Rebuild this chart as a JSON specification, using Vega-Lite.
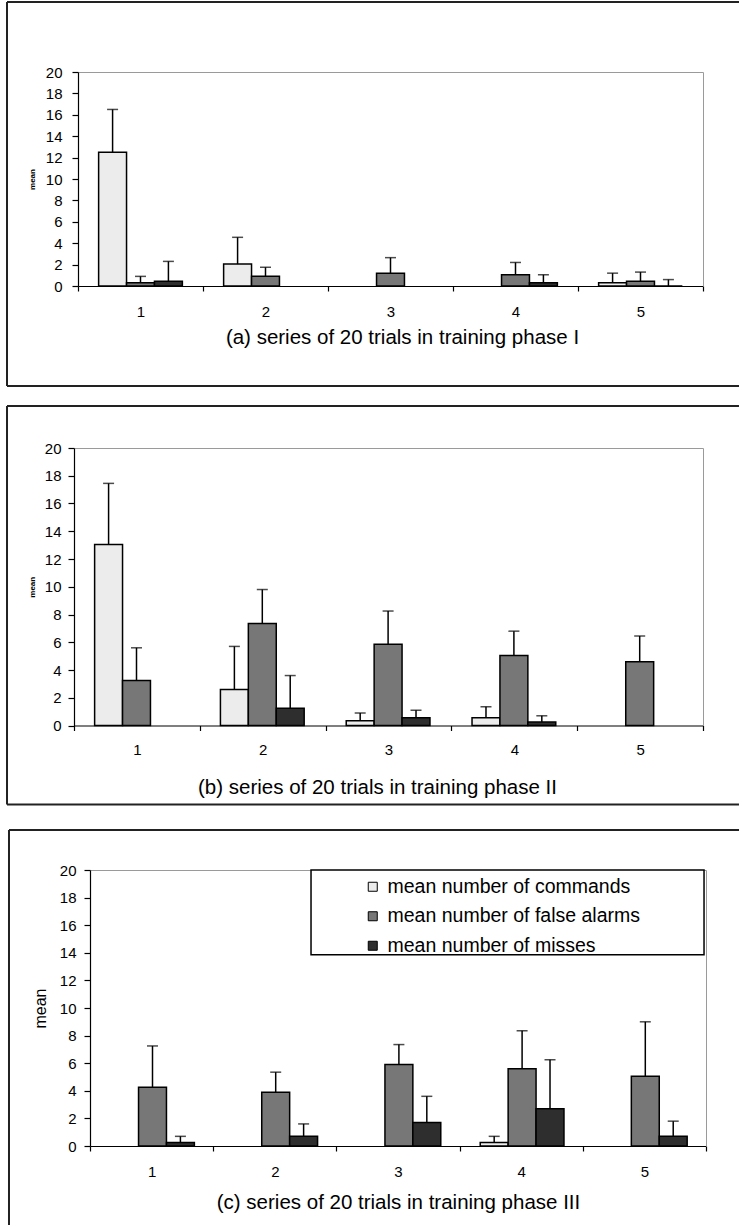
{
  "$schema": "https://vega.github.io/schema/vega-lite/v6.json",
  "padding": {"left": 6, "top": 1, "right": 0, "bottom": 0},
  "autosize": {"type": "pad"},
  "background": "white",
  "config": {
    "font": "Liberation Sans",
    "view": {"stroke": null},
    "axis": {"domainColor": "black", "tickColor": "black", "labelColor": "black", "titleColor": "black", "labelFont": "Liberation Sans", "titleFont": "Liberation Sans", "grid": false, "domainWidth": 1.2, "tickWidth": 1.2, "labelOverlap": false},
    "axisY": {"labelOverlap": false, "labelBound": false, "labelFlush": false}
  },
  "datasets": {
    "bars": [
      {"panel": "a", "trial": 1, "series": "mean number of commands", "mean": 12.5, "upper": 16.5},
      {"panel": "a", "trial": 1, "series": "mean number of false alarms", "mean": 0.3, "upper": 0.9},
      {"panel": "a", "trial": 1, "series": "mean number of misses", "mean": 0.45, "upper": 2.3},
      {"panel": "a", "trial": 2, "series": "mean number of commands", "mean": 2.05, "upper": 4.55},
      {"panel": "a", "trial": 2, "series": "mean number of false alarms", "mean": 0.9, "upper": 1.75},
      {"panel": "a", "trial": 3, "series": "mean number of false alarms", "mean": 1.2, "upper": 2.65},
      {"panel": "a", "trial": 4, "series": "mean number of false alarms", "mean": 1.05, "upper": 2.2},
      {"panel": "a", "trial": 4, "series": "mean number of misses", "mean": 0.3, "upper": 1.05},
      {"panel": "a", "trial": 5, "series": "mean number of commands", "mean": 0.3, "upper": 1.2},
      {"panel": "a", "trial": 5, "series": "mean number of false alarms", "mean": 0.45, "upper": 1.3},
      {"panel": "a", "trial": 5, "series": "mean number of misses", "mean": 0, "upper": 0.6},
      {"panel": "b", "trial": 1, "series": "mean number of commands", "mean": 13.05, "upper": 17.45},
      {"panel": "b", "trial": 1, "series": "mean number of false alarms", "mean": 3.25, "upper": 5.6},
      {"panel": "b", "trial": 2, "series": "mean number of commands", "mean": 2.6, "upper": 5.7},
      {"panel": "b", "trial": 2, "series": "mean number of false alarms", "mean": 7.35, "upper": 9.8},
      {"panel": "b", "trial": 2, "series": "mean number of misses", "mean": 1.25, "upper": 3.6},
      {"panel": "b", "trial": 3, "series": "mean number of commands", "mean": 0.35, "upper": 0.9},
      {"panel": "b", "trial": 3, "series": "mean number of false alarms", "mean": 5.85, "upper": 8.25},
      {"panel": "b", "trial": 3, "series": "mean number of misses", "mean": 0.55, "upper": 1.1},
      {"panel": "b", "trial": 4, "series": "mean number of commands", "mean": 0.55, "upper": 1.35},
      {"panel": "b", "trial": 4, "series": "mean number of false alarms", "mean": 5.05, "upper": 6.8},
      {"panel": "b", "trial": 4, "series": "mean number of misses", "mean": 0.25, "upper": 0.7},
      {"panel": "b", "trial": 5, "series": "mean number of false alarms", "mean": 4.6, "upper": 6.45},
      {"panel": "c", "trial": 1, "series": "mean number of false alarms", "mean": 4.25, "upper": 7.25},
      {"panel": "c", "trial": 1, "series": "mean number of misses", "mean": 0.25, "upper": 0.7},
      {"panel": "c", "trial": 2, "series": "mean number of false alarms", "mean": 3.9, "upper": 5.35},
      {"panel": "c", "trial": 2, "series": "mean number of misses", "mean": 0.7, "upper": 1.6},
      {"panel": "c", "trial": 3, "series": "mean number of false alarms", "mean": 5.9, "upper": 7.35},
      {"panel": "c", "trial": 3, "series": "mean number of misses", "mean": 1.7, "upper": 3.6},
      {"panel": "c", "trial": 4, "series": "mean number of commands", "mean": 0.25, "upper": 0.7},
      {"panel": "c", "trial": 4, "series": "mean number of false alarms", "mean": 5.6, "upper": 8.35},
      {"panel": "c", "trial": 4, "series": "mean number of misses", "mean": 2.7, "upper": 6.25},
      {"panel": "c", "trial": 5, "series": "mean number of false alarms", "mean": 5.05, "upper": 9.0},
      {"panel": "c", "trial": 5, "series": "mean number of misses", "mean": 0.7, "upper": 1.8}
    ]
  },
  "columns": 1,
  "bounds": "full",
  "spacing": 16,
  "resolve": {"legend": {"fill": "independent"}},
  "concat": [
    {
      "width": 625, "height": 214,
      "resolve": {"scale": {"x": "independent", "y": "independent"}},
      "layer": [
        {
          "data": {"values": [{}]},
          "layer": [
            {"mark": {"type": "rule", "color": "#222", "strokeWidth": 2},
             "encoding": {"x": {"datum": -0.1136, "type": "quantitative", "scale": {"domain": [0, 1], "range": [0, 625], "nice": false, "zero": false}, "axis": {"orient": "top", "domainColor": "#9a9a9a", "domainWidth": 1, "ticks": false, "labels": false, "title": null}}, "x2": {"datum": 1.0576}, "y": {"datum": 1.3271, "type": "quantitative", "scale": {"domain": [0, 1], "nice": false, "zero": false}, "axis": {"orient": "right", "domainColor": "#9a9a9a", "domainWidth": 1, "ticks": false, "labels": false, "title": null}}}},
            {"mark": {"type": "rule", "color": "#222", "strokeWidth": 2},
             "encoding": {"x": {"datum": -0.1136, "type": "quantitative"}, "y": {"datum": -0.4673, "type": "quantitative"}, "y2": {"datum": 1.3271}}},
            {"mark": {"type": "rule", "color": "#222", "strokeWidth": 2},
             "encoding": {"x": {"datum": -0.1136, "type": "quantitative"}, "x2": {"datum": 1.0576}, "y": {"datum": -0.4673, "type": "quantitative"}}}
          ]
        },
        {
          "data": {"name": "bars"},
          "transform": [{"filter": "datum.panel == 'a'"}],
          "encoding": {
            "x": {"field": "trial", "type": "ordinal", "scale": {"domain": [1, 2, 3, 4, 5], "range": [0, 625], "paddingInner": 0, "paddingOuter": 0},
                  "axis": {"orient": "bottom", "title": "(a) series of 20 trials in training phase I", "labelAngle": 0, "tickBand": "extent", "tickSize": 5, "labelPadding": 13.6, "labelFontSize": 15, "titleFontSize": 20.5, "titleFontWeight": "normal", "titlePadding": 7.4, "titleX": 324}},
            "xOffset": {"field": "series", "type": "nominal", "scale": {"domain": ["mean number of commands", "mean number of false alarms", "mean number of misses"], "paddingInner": 0, "paddingOuter": 0.739}}
          },
          "layer": [
            {"mark": {"type": "bar", "stroke": "black", "strokeWidth": 1.5},
             "encoding": {
               "y": {"field": "mean", "type": "quantitative", "title": "mean", "scale": {"domain": [0, 20], "nice": false},
                     "axis": {"orient": "left", "values": [0, 2, 4, 6, 8, 10, 12, 14, 16, 18, 20], "labelOverlap": false, "tickSize": 6, "labelPadding": 10, "labelFontSize": 15, "titleFontSize": 8, "titleFontWeight": "bold", "titlePadding": 9}},
               "fill": {"field": "series", "type": "nominal", "scale": {"domain": ["mean number of commands", "mean number of false alarms", "mean number of misses"], "range": ["#ececec", "#777777", "#2e2e2e"]}, "legend": null}
             }},
            {"mark": {"type": "rule", "color": "black", "strokeWidth": 1.5},
             "encoding": {"y": {"field": "mean", "type": "quantitative", "title": "mean", "axis": {"orient": "left", "values": [0, 2, 4, 6, 8, 10, 12, 14, 16, 18, 20], "labelOverlap": false, "tickSize": 6, "labelPadding": 10, "labelFontSize": 15, "titleFontSize": 8, "titleFontWeight": "bold", "titlePadding": 9}}, "y2": {"field": "upper"}}},
            {"mark": {"type": "tick", "color": "black", "size": 11, "thickness": 1.5},
             "encoding": {"y": {"field": "upper", "type": "quantitative", "title": "mean", "axis": {"orient": "left", "values": [0, 2, 4, 6, 8, 10, 12, 14, 16, 18, 20], "labelOverlap": false, "tickSize": 6, "labelPadding": 10, "labelFontSize": 15, "titleFontSize": 8, "titleFontWeight": "bold", "titlePadding": 9}}}}
          ]
        }
      ]
    },
    {
      "width": 625, "height": 277.5,
      "resolve": {"scale": {"x": "independent", "y": "independent"}},
      "layer": [
        {
          "data": {"values": [{}]},
          "layer": [
            {"mark": {"type": "rule", "color": "#222", "strokeWidth": 2},
             "encoding": {"x": {"datum": -0.1065, "type": "quantitative", "scale": {"domain": [0, 1], "range": [-4, 625], "nice": false, "zero": false}, "axis": {"orient": "top", "domainColor": "#9a9a9a", "domainWidth": 1, "ticks": false, "labels": false, "title": null}}, "x2": {"datum": 1.0572}, "y": {"datum": 1.1514, "type": "quantitative", "scale": {"domain": [0, 1], "nice": false, "zero": false}, "axis": {"orient": "right", "domainColor": "#9a9a9a", "domainWidth": 1, "ticks": false, "labels": false, "title": null}}}},
            {"mark": {"type": "rule", "color": "#222", "strokeWidth": 2},
             "encoding": {"x": {"datum": -0.1065, "type": "quantitative"}, "y": {"datum": -0.2847, "type": "quantitative"}, "y2": {"datum": 1.1514}}},
            {"mark": {"type": "rule", "color": "#222", "strokeWidth": 2},
             "encoding": {"x": {"datum": -0.1065, "type": "quantitative"}, "x2": {"datum": 1.0572}, "y": {"datum": -0.2847, "type": "quantitative"}}},
            {"mark": {"type": "rule", "color": "white", "strokeWidth": 1, "strokeOpacity": 0},
             "encoding": {"x": {"datum": 0.5, "type": "quantitative"}, "y": {"datum": -0.2847, "type": "quantitative"}, "y2": {"datum": -0.3135}}}
          ]
        },
        {
          "data": {"name": "bars"},
          "transform": [{"filter": "datum.panel == 'b'"}],
          "encoding": {
            "x": {"field": "trial", "type": "ordinal", "scale": {"domain": [1, 2, 3, 4, 5], "range": [-4, 625], "paddingInner": 0, "paddingOuter": 0},
                  "axis": {"orient": "bottom", "title": "(b) series of 20 trials in training phase II", "labelAngle": 0, "tickBand": "extent", "tickSize": 5, "labelPadding": 11.6, "labelFontSize": 15, "titleFontSize": 20.5, "titleFontWeight": "normal", "titlePadding": 20.4, "titleX": 299}},
            "xOffset": {"field": "series", "type": "nominal", "scale": {"domain": ["mean number of commands", "mean number of false alarms", "mean number of misses"], "paddingInner": 0, "paddingOuter": 0.739}}
          },
          "layer": [
            {"mark": {"type": "bar", "stroke": "black", "strokeWidth": 1.5},
             "encoding": {
               "y": {"field": "mean", "type": "quantitative", "title": "mean", "scale": {"domain": [0, 20], "nice": false},
                     "axis": {"orient": "left", "offset": 4, "values": [0, 2, 4, 6, 8, 10, 12, 14, 16, 18, 20], "labelOverlap": false, "tickSize": 6, "labelPadding": 7, "labelFontSize": 15, "titleFontSize": 8, "titleFontWeight": "bold", "titlePadding": 8}},
               "fill": {"field": "series", "type": "nominal", "scale": {"domain": ["mean number of commands", "mean number of false alarms", "mean number of misses"], "range": ["#ececec", "#777777", "#2e2e2e"]}, "legend": null}
             }},
            {"mark": {"type": "rule", "color": "black", "strokeWidth": 1.5},
             "encoding": {"y": {"field": "mean", "type": "quantitative", "title": "mean", "axis": {"orient": "left", "offset": 4, "values": [0, 2, 4, 6, 8, 10, 12, 14, 16, 18, 20], "labelOverlap": false, "tickSize": 6, "labelPadding": 7, "labelFontSize": 15, "titleFontSize": 8, "titleFontWeight": "bold", "titlePadding": 8}}, "y2": {"field": "upper"}}},
            {"mark": {"type": "tick", "color": "black", "size": 11, "thickness": 1.5},
             "encoding": {"y": {"field": "upper", "type": "quantitative", "title": "mean", "axis": {"orient": "left", "offset": 4, "values": [0, 2, 4, 6, 8, 10, 12, 14, 16, 18, 20], "labelOverlap": false, "tickSize": 6, "labelPadding": 7, "labelFontSize": 15, "titleFontSize": 8, "titleFontWeight": "bold", "titlePadding": 8}}}}
          ]
        }
      ]
    },
    {
      "width": 628, "height": 276,
      "resolve": {"scale": {"x": "independent", "y": "independent"}},
      "layer": [
        {
          "data": {"values": [{}]},
          "layer": [
            {"mark": {"type": "rule", "color": "#222", "strokeWidth": 2},
             "encoding": {"x": {"datum": -0.1315, "type": "quantitative", "scale": {"domain": [0, 1], "range": [12, 628], "nice": false, "zero": false}, "axis": {"orient": "top", "domainColor": "#9a9a9a", "domainWidth": 1, "ticks": false, "labels": false, "title": null}}, "x2": {"datum": 1.0536}, "y": {"datum": 1.1449, "type": "quantitative", "scale": {"domain": [0, 1], "nice": false, "zero": false}, "axis": {"orient": "right", "domainColor": "#9a9a9a", "domainWidth": 1, "ticks": false, "labels": false, "title": null}}}},
            {"mark": {"type": "rule", "color": "#222", "strokeWidth": 2},
             "encoding": {"x": {"datum": -0.1315, "type": "quantitative"}, "y": {"datum": -0.2862, "type": "quantitative"}, "y2": {"datum": 1.1449}}},
            {"mark": {"type": "rect", "fill": "white", "stroke": "black", "strokeWidth": 1.5},
             "encoding": {"x": {"datum": 0.3588, "type": "quantitative"}, "x2": {"datum": 0.9968}, "y": {"datum": 1.0, "type": "quantitative"}, "y2": {"datum": 0.693}}}
          ]
        },
        {
          "data": {"name": "bars"},
          "transform": [{"filter": "datum.panel == 'c'"}],
          "encoding": {
            "x": {"field": "trial", "type": "ordinal", "scale": {"domain": [1, 2, 3, 4, 5], "range": [12, 628], "paddingInner": 0, "paddingOuter": 0},
                  "axis": {"orient": "bottom", "title": "(c) series of 20 trials in training phase III", "labelAngle": 0, "tickBand": "extent", "tickSize": 5, "labelPadding": 13.6, "labelFontSize": 15, "titleFontSize": 20.5, "titleFontWeight": "normal", "titlePadding": 12.4, "titleX": 320}},
            "xOffset": {"field": "series", "type": "nominal", "scale": {"domain": ["mean number of commands", "mean number of false alarms", "mean number of misses"], "paddingInner": 0, "paddingOuter": 0.739}}
          },
          "layer": [
            {"mark": {"type": "bar", "stroke": "black", "strokeWidth": 1.5},
             "encoding": {
               "y": {"field": "mean", "type": "quantitative", "title": "mean", "scale": {"domain": [0, 20], "nice": false},
                     "axis": {"orient": "left", "offset": -12, "values": [0, 2, 4, 6, 8, 10, 12, 14, 16, 18, 20], "labelOverlap": false, "tickSize": 6, "labelPadding": 8, "labelFontSize": 15, "titleFontSize": 16, "titleFontWeight": "normal", "titlePadding": 11}},
               "fill": {"field": "series", "type": "nominal", "scale": {"domain": ["mean number of commands", "mean number of false alarms", "mean number of misses"], "range": ["#ececec", "#777777", "#2e2e2e"]},
                        "legend": {"orient": "none", "legendX": 285, "legendY": 7, "title": null, "symbolType": "square", "symbolSize": 81, "symbolStrokeColor": "black", "symbolStrokeWidth": 1, "symbolOffset": 0, "labelFontSize": 19.5, "labelColor": "black", "labelFont": "Liberation Sans", "labelOffset": 5, "labelLimit": 400, "padding": 0, "rowPadding": 8.5}}
             }},
            {"mark": {"type": "rule", "color": "black", "strokeWidth": 1.5},
             "encoding": {"y": {"field": "mean", "type": "quantitative", "title": "mean", "axis": {"orient": "left", "offset": -12, "values": [0, 2, 4, 6, 8, 10, 12, 14, 16, 18, 20], "labelOverlap": false, "tickSize": 6, "labelPadding": 8, "labelFontSize": 15, "titleFontSize": 16, "titleFontWeight": "normal", "titlePadding": 11}}, "y2": {"field": "upper"}}},
            {"mark": {"type": "tick", "color": "black", "size": 11, "thickness": 1.5},
             "encoding": {"y": {"field": "upper", "type": "quantitative", "title": "mean", "axis": {"orient": "left", "offset": -12, "values": [0, 2, 4, 6, 8, 10, 12, 14, 16, 18, 20], "labelOverlap": false, "tickSize": 6, "labelPadding": 8, "labelFontSize": 15, "titleFontSize": 16, "titleFontWeight": "normal", "titlePadding": 11}}}}
          ]
        }
      ]
    }
  ]
}
